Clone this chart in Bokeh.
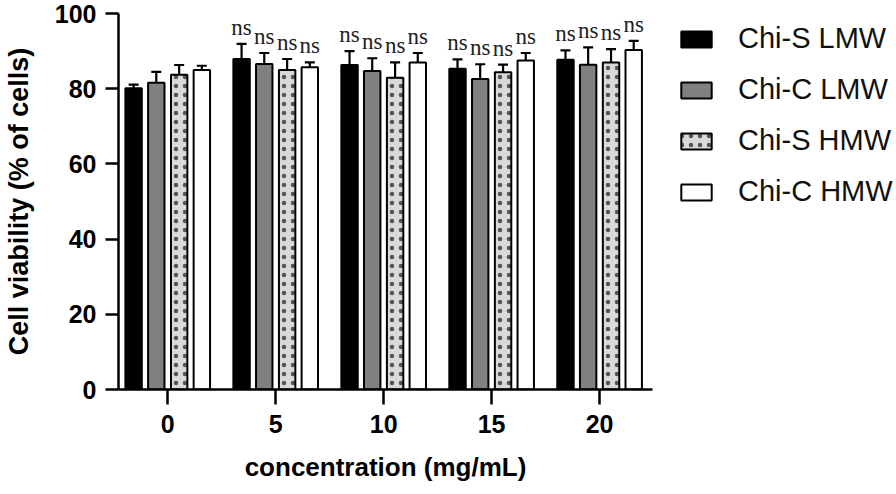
from bokeh.plotting import figure
from bokeh.models import (ColumnDataSource, Whisker, TeeHead, Legend, LegendItem,
                          FixedTicker, Range1d)
from bokeh.transform import dodge
from bokeh.core.properties import value
from bokeh.embed import file_html
from bokeh.resources import INLINE

# ---- data ----
concentration = [0, 5, 10, 15, 20]
series_names = ["Chi-S LMW", "Chi-C LMW", "Chi-S HMW", "Chi-C HMW"]
chi_s_lmw = [80.1, 87.9, 86.3, 85.3, 87.7]
chi_s_lmw_err = [1.0, 4.0, 3.7, 2.5, 2.5]
chi_c_lmw = [81.6, 86.6, 84.7, 82.6, 86.4]
chi_c_lmw_err = [2.9, 2.9, 3.4, 3.9, 4.6]
chi_s_hmw = [83.7, 85.0, 82.9, 84.4, 87.0]
chi_s_hmw_err = [2.6, 2.9, 4.1, 2.0, 3.5]
chi_c_hmw = [85.0, 85.7, 87.0, 87.5, 90.3]
chi_c_hmw_err = [1.1, 1.3, 2.5, 2.0, 2.4]
significance = ["", "ns", "ns", "ns", "ns"]
y_ticks = [0, 20, 40, 60, 80, 100]

values = [chi_s_lmw, chi_c_lmw, chi_s_hmw, chi_c_hmw]
errors = [chi_s_lmw_err, chi_c_lmw_err, chi_s_hmw_err, chi_c_hmw_err]

# ---- styles ----
fills = ["#000000", "#808080", "#d9d9d9", "#ffffff"]
hatches = [None, None, "dot", None]
offsets = [-1.58, -0.53, 0.53, 1.58]
bar_w = 0.76

p = figure(frame_width=534, frame_height=376, output_backend="svg",
           toolbar_location=None, x_range=Range1d(-2.28, 22.45),
           y_range=Range1d(0, 100), min_border_left=118, min_border_top=13,
           min_border_bottom=97, min_border_right=236)
p.outline_line_color = None
p.xgrid.visible = False
p.ygrid.visible = False
p.background_fill_color = "white"
p.border_fill_color = "white"

items = []
for i in range(4):
    tops = [v + e for v, e in zip(values[i], errors[i])]
    src = ColumnDataSource(dict(x=concentration, y=values[i], up=tops,
                                lab=significance))
    xd = dodge("x", offsets[i], range=p.x_range)
    kw = dict(fill_color=fills[i], line_color="black", line_width=2)
    if hatches[i]:
        kw.update(hatch_pattern=hatches[i], hatch_color="#555555",
                  hatch_scale=9, hatch_weight=1.2)
    w = Whisker(source=src, base=xd, lower="y", upper="up",
                dimension="height", line_color="black", line_width=2.2,
                upper_head=TeeHead(size=10, line_color="black", line_width=2.2),
                lower_head=None)
    p.add_layout(w)
    r = p.vbar(x=xd, top="y", bottom=0, width=bar_w, source=src, **kw)
    items.append(LegendItem(label=series_names[i], renderers=[r]))
    p.text(x=xd, y="up", text="lab", source=src, text_align="center",
           text_baseline="bottom", y_offset=-4,
           text_font=value("Liberation Serif"), text_font_size="23px",
           text_color="#222222")

# axes
p.xaxis.ticker = FixedTicker(ticks=concentration)
p.yaxis.ticker = FixedTicker(ticks=y_ticks)
for ax in (p.xaxis[0], p.yaxis[0]):
    ax.axis_line_width = 2.5
    ax.axis_line_color = "black"
    ax.major_tick_line_width = 2.5
    ax.major_tick_line_color = "black"
    ax.major_tick_in = 0
    ax.minor_tick_line_color = None
    ax.major_label_text_font = "Liberation Sans"
    ax.major_label_text_font_style = "bold"
    ax.major_label_text_font_size = "25px"
    ax.major_label_text_color = "black"
    ax.axis_label_text_font = "Liberation Sans"
    ax.axis_label_text_font_style = "bold"
    ax.axis_label_text_color = "black"
p.yaxis.major_tick_out = 13
p.yaxis.major_label_standoff = 9
p.yaxis.axis_label = "Cell viability (% of cells)"
p.yaxis.axis_label_text_font_size = "27px"
p.yaxis.axis_label_text_line_height = 0.9
p.yaxis.axis_label_standoff = 18
p.xaxis.major_tick_out = 15
p.xaxis.major_label_standoff = 10
p.xaxis.axis_label = "concentration (mg/mL)"
p.xaxis.axis_label_text_font_size = "26px"
p.xaxis.axis_label_standoff = 16

legend = Legend(items=items, location=(25, 181), glyph_width=38,
                glyph_height=20, label_standoff=23, spacing=18, margin=0,
                padding=10, label_text_font="Liberation Sans",
                label_text_font_size="29px", label_text_color="#111111",
                border_line_color=None, background_fill_alpha=0)
p.add_layout(legend, "right")

open("out.html", "w").write(file_html(p, INLINE))
